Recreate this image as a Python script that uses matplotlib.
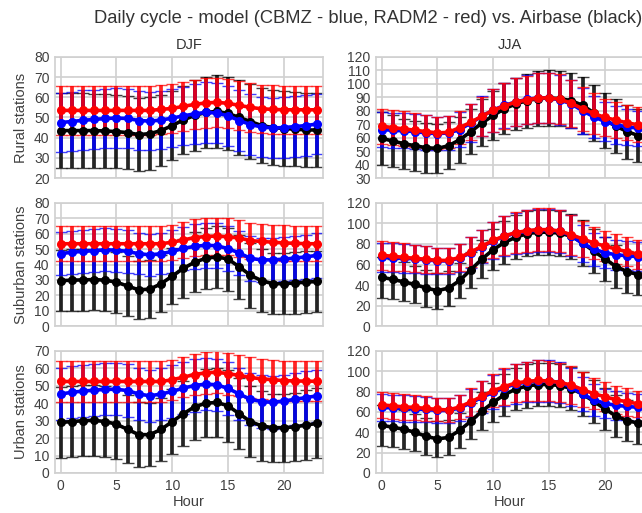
import numpy as np
import matplotlib.pyplot as plt

plt.rcParams['font.family'] = ['Liberation Sans', 'DejaVu Sans']

hours = np.arange(24)

# DJF - rural
djf_rur_obs = [43.5, 43.5, 43.5, 43.5, 43.3, 43, 42.5, 41.5, 42, 43.5, 46, 48.8, 51, 52.5, 53, 52, 50, 48, 46, 45, 44.5, 44.2, 43.8, 43.8]
djf_rur_obs_sd = [18.5, 18.5, 18.5, 18.3, 18.2, 18, 18, 18, 18, 17.5, 17, 17, 17.5, 17.8, 18, 18, 18.5, 18.5, 18.5, 18.5, 18.5, 18.3, 18.3, 18.3]
djf_rur_cbmz = [47.5, 48, 48.6, 49, 49.5, 49.7, 49.5, 48.5, 48.2, 48.7, 49.7, 50.8, 51.8, 52.5, 52.2, 50.8, 48.5, 46.5, 45.3, 44.8, 45, 45.5, 46, 46.8]
djf_rur_cbmz_sd = [14.8, 14.8, 14.8, 14.8, 14.8, 14.8, 14.8, 14.5, 14.3, 14.3, 14.3, 14.5, 14.8, 15, 15, 15, 15, 15, 15, 15, 15, 15, 15, 15]
djf_rur_radm = [53.5, 53.5, 53.5, 53.5, 53.5, 53.5, 53.5, 53.5, 53.5, 54, 54.5, 55.5, 56.5, 57.2, 57.5, 57, 56, 55, 54.3, 54, 53.8, 53.8, 53.8, 53.8]
djf_rur_radm_sd = [12, 12, 12, 12, 12, 12, 12, 12, 12, 12, 12, 12, 12.2, 12.2, 12.3, 12.3, 12.2, 12, 12, 12, 12, 12, 12, 12]

# DJF - suburban
djf_sub_obs = [29.5, 29.8, 30, 30.2, 29.8, 28.5, 26, 23.5, 24, 27.5, 32.5, 37.5, 41.5, 44, 45, 43.5, 38.5, 33, 29.5, 27.5, 27.5, 28, 28.5, 29]
djf_sub_obs_sd = [20, 20, 20, 20, 20, 19.8, 19.5, 19, 19, 18.5, 18, 19, 19.5, 20, 20, 20.5, 21, 21, 20.5, 20, 20, 20, 20, 20]
djf_sub_cbmz = [47, 48, 48.5, 49, 49.5, 49.3, 48.5, 47, 46.3, 47, 48.5, 50.5, 51.8, 52.5, 52.2, 50.3, 47.5, 44, 43, 43, 43.5, 44.2, 45, 46]
djf_sub_cbmz_sd = [14, 14, 14, 14, 14, 14, 14, 13.5, 13.5, 13.5, 14, 14, 14.5, 14.5, 14.5, 14.5, 14.5, 14.5, 14.5, 14.5, 14.5, 14.5, 14.5, 14.5]
djf_sub_radm = [53.5, 53.5, 53.5, 53.5, 53.5, 53.5, 53.5, 53.5, 53.5, 53.5, 54.5, 56, 57.5, 58.2, 58.5, 58, 57.2, 55.5, 55, 54.5, 54, 53.8, 53.5, 53.5]
djf_sub_radm_sd = [11.5, 11.5, 11.5, 11.5, 11.5, 11.5, 11.5, 11.5, 11.5, 11.5, 11.5, 11.8, 12, 12, 12, 12, 12, 11.8, 11.5, 11.5, 11.5, 11.5, 11.5, 11.5]

# DJF - urban
djf_urb_obs = [29, 29.5, 30, 30.2, 29.5, 28, 25, 22, 22, 25, 29.5, 34, 38, 40, 40.5, 38.5, 34, 29.5, 27, 26, 26, 26.5, 27.5, 28.5]
djf_urb_obs_sd = [20.5, 20.5, 20.5, 20.5, 20.5, 20, 19.5, 18.5, 18, 18, 18.5, 18.5, 19, 19.5, 20, 20.5, 20.5, 20.5, 20, 19.5, 19.5, 19.5, 20, 20]
djf_urb_cbmz = [45.3, 46.3, 47, 47.5, 48, 48, 47.3, 45.3, 44.3, 45.3, 46.8, 48.7, 50.2, 51, 50.6, 48.5, 45.3, 42.3, 41, 40.5, 41.3, 42.3, 43.3, 44.3]
djf_urb_cbmz_sd = [15, 15, 15, 15, 15, 15, 15, 15, 15, 15, 15, 15, 15, 15, 15, 15, 15, 15, 15, 15, 15, 15, 15, 15]
djf_urb_radm = [52.5, 52.5, 52.5, 52.5, 52.5, 52.5, 52.5, 52.5, 52.5, 52.5, 53.5, 55, 56.5, 57.5, 57.8, 57, 56, 54.8, 54, 53.5, 53, 52.8, 52.7, 52.6]
djf_urb_radm_sd = [11.5, 11.5, 11.5, 11.5, 11.5, 11.5, 11.5, 11.5, 11.5, 11.5, 11.5, 11.5, 11.8, 12, 12, 12, 11.8, 11.5, 11.5, 11.5, 11.5, 11.5, 11.5, 11.5]

# JJA - rural
jja_rur_obs = [59.5, 57.5, 55.5, 54, 52.5, 52, 54, 58.5, 64.5, 71, 76.5, 81.5, 85, 87.5, 89, 89.5, 89, 87.5, 84, 78.5, 73, 68.5, 64.5, 61.5]
jja_rur_obs_sd = [19.5, 19, 18.5, 18.5, 18.5, 18, 17.5, 17, 17, 17.5, 18, 19, 19.5, 20, 20.5, 20.5, 20.5, 20.5, 21, 21, 20.5, 20, 20, 19.5]
jja_rur_cbmz = [66, 65.5, 65, 64.5, 63.5, 63, 63.5, 66, 71, 76, 80.5, 84, 86.5, 88.5, 89.5, 89.5, 88, 85, 80, 75.5, 72, 69.5, 68, 67]
jja_rur_cbmz_sd = [13, 13, 13, 13, 13, 12.5, 12.5, 13, 14, 15, 16, 17, 17.5, 18, 18.5, 18.5, 18.5, 18, 17, 15.5, 14.5, 14, 13.5, 13]
jja_rur_radm = [68.5, 67.5, 66.5, 65.5, 64.5, 63.5, 64, 67.5, 71.5, 76, 80.5, 83.5, 86.5, 88, 89.5, 89.5, 88.5, 85.5, 81.5, 78, 75, 73, 71, 69.5]
jja_rur_radm_sd = [13, 13, 13, 12.5, 12.5, 12, 12, 12.5, 13.5, 14.5, 16, 17, 17.5, 18, 18.5, 18.5, 18.5, 17.5, 16.5, 15.5, 14, 13.5, 13, 13]

# JJA - suburban
jja_sub_obs = [47.5, 45.5, 43, 40.5, 37, 34.5, 37, 44.5, 55, 65.5, 74.5, 81.5, 86.5, 90, 91.5, 91.5, 90.5, 87.5, 81, 73, 65.5, 58, 53, 50]
jja_sub_obs_sd = [20, 19.5, 19, 18.5, 18, 17.5, 17, 17, 17.5, 18.5, 20, 21, 21.5, 22, 22, 22, 22, 22, 22, 21.5, 21.5, 21, 20.5, 20]
jja_sub_cbmz = [67, 66.5, 66, 65.5, 64.5, 63.5, 63.5, 66.5, 71.5, 77.5, 83, 87.5, 90.5, 92.5, 93.5, 93.5, 92.5, 88, 80.5, 75, 71.5, 69.5, 68.5, 67.5]
jja_sub_cbmz_sd = [14, 14, 14, 14, 13.5, 13, 13, 13.5, 15, 16.5, 18, 19.5, 20, 21, 21, 21, 21, 20, 18, 16, 15, 14.5, 14, 14]
jja_sub_radm = [69, 68, 67, 66, 65, 64, 64, 67, 72, 78, 83.5, 88, 91, 93, 94, 94, 92.5, 89, 85, 81, 78, 75, 72.5, 70]
jja_sub_radm_sd = [14, 14, 13.5, 13.5, 13, 12.5, 12.5, 13, 14.5, 16, 17.5, 19, 20, 20.5, 21, 21, 20.5, 19.5, 17.5, 16, 15, 14.5, 14, 14]

# JJA - urban
jja_urb_obs = [47, 45, 43, 40, 36, 33.5, 35, 42, 51, 61, 69.5, 77, 82.5, 85.5, 87, 87, 86, 83, 77.5, 70.5, 63, 56, 51.5, 49]
jja_urb_obs_sd = [20, 19.5, 19, 18.5, 18, 17.7, 17, 17, 17.5, 18.5, 19.5, 20.5, 21, 21.5, 21.5, 21.5, 21.5, 21.5, 21.5, 21, 21, 20.5, 20, 20]
jja_urb_cbmz = [64.5, 64, 63.5, 63, 62.5, 61.5, 61.5, 64, 69, 74.5, 79.5, 84, 87.5, 89.5, 90.5, 90.5, 89, 84.5, 77.5, 72, 68.5, 66.5, 65.5, 64.5]
jja_urb_cbmz_sd = [13, 13, 13, 13, 12.5, 12, 12, 12.5, 14, 15.5, 17, 18.5, 19.5, 20, 20.5, 20.5, 20, 19, 17, 15.5, 14.5, 14, 13.5, 13]
jja_urb_radm = [67, 66, 65, 64.5, 63.5, 62.5, 62, 65, 70, 75.5, 81, 85, 88.5, 90, 91, 90.5, 89, 86.5, 82, 78, 75, 72, 70, 68]
jja_urb_radm_sd = [13, 13, 12.5, 12.5, 12, 11.5, 11.5, 12, 13.5, 15, 16.5, 18, 19, 19.5, 20, 20, 19.5, 18.5, 17, 15.5, 14.5, 14, 13.5, 13]

seasons = ['DJF', 'JJA']
station_types = ['Rural stations', 'Suburban stations', 'Urban stations']

panels = [
    [(djf_rur_obs, djf_rur_obs_sd, djf_rur_cbmz, djf_rur_cbmz_sd, djf_rur_radm, djf_rur_radm_sd),
     (jja_rur_obs, jja_rur_obs_sd, jja_rur_cbmz, jja_rur_cbmz_sd, jja_rur_radm, jja_rur_radm_sd)],
    [(djf_sub_obs, djf_sub_obs_sd, djf_sub_cbmz, djf_sub_cbmz_sd, djf_sub_radm, djf_sub_radm_sd),
     (jja_sub_obs, jja_sub_obs_sd, jja_sub_cbmz, jja_sub_cbmz_sd, jja_sub_radm, jja_sub_radm_sd)],
    [(djf_urb_obs, djf_urb_obs_sd, djf_urb_cbmz, djf_urb_cbmz_sd, djf_urb_radm, djf_urb_radm_sd),
     (jja_urb_obs, jja_urb_obs_sd, jja_urb_cbmz, jja_urb_cbmz_sd, jja_urb_radm, jja_urb_radm_sd)],
]

# y ranges per row/column: (min, max, step)
ylims = [[(20, 80, 10), (30, 120, 10)],
         [(0, 80, 10), (0, 120, 20)],
         [(0, 70, 10), (0, 120, 20)]]

# axes placement, figure fraction
lefts = [0.0857, 0.5857]
width = 0.4174
bottoms = [0.653, 0.3645, 0.078]
heights = [0.236, 0.2398, 0.2378]

tick_col = '#404040'
grid_col = '#d0d0d0'

fig = plt.figure(figsize=(6.42, 5.13), dpi=100)
fig.text(0.573, 0.963, 'Daily cycle - model (CBMZ - blue, RADM2 - red) vs. Airbase (black)',
         ha='center', va='center', fontsize=13.2, color='#333333')

for r in range(3):
    for c in range(2):
        ax = fig.add_axes([lefts[c], bottoms[r], width, heights[r]])
        obs, obs_sd, cbmz, cbmz_sd, radm, radm_sd = panels[r][c]
        for m, s, col in [(obs, obs_sd, 'black'), (cbmz, cbmz_sd, 'blue'), (radm, radm_sd, 'red')]:
            eb = ax.errorbar(hours, m, yerr=s, color=col, marker='o', ms=5.5, lw=2.6,
                             elinewidth=2.7, capsize=4, capthick=1)
            for part in eb[1]:
                part.set_alpha(0.75)
            for part in eb[2]:
                part.set_alpha(0.85)
        lo, hi, step = ylims[r][c]
        ax.set_ylim(lo, hi)
        ax.set_yticks(np.arange(lo, hi + 1, step))
        ax.set_xlim(-0.5, 23.5)
        ax.set_xticks([0, 5, 10, 15, 20])
        ax.grid(True, color=grid_col, lw=1.2)
        ax.set_axisbelow(True)
        for sp in ax.spines.values():
            sp.set_color(grid_col)
            sp.set_linewidth(1.2)
        ax.tick_params(length=0, labelsize=10, colors=tick_col, pad=4)
        if r < 2:
            ax.set_xticklabels([])
        else:
            ax.set_xlabel('Hour', fontsize=10.5, color=tick_col, labelpad=2)
        if r == 0:
            ax.set_title(seasons[c], fontsize=10.5, color='#333333', pad=6)
        if c == 0:
            ax.set_ylabel(station_types[r], fontsize=10.5, color=tick_col, labelpad=4)

fig.savefig('out.png', dpi=100)
